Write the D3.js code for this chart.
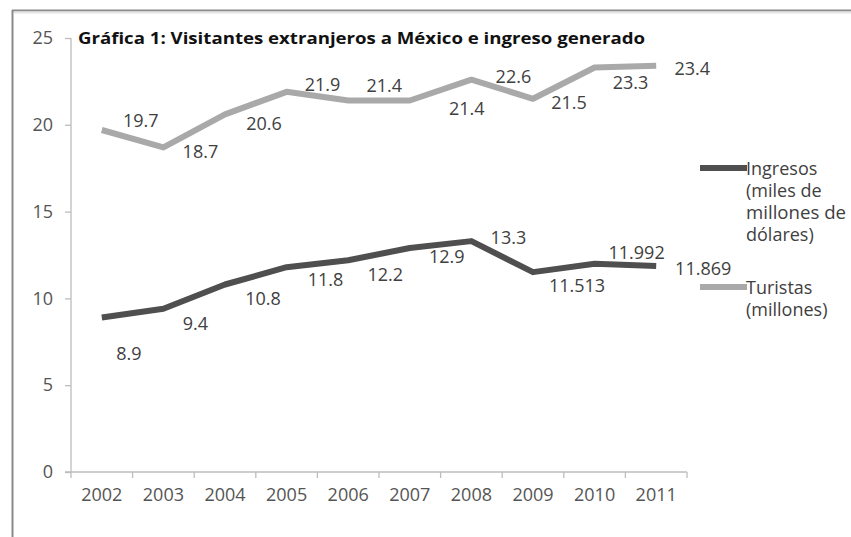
<!DOCTYPE html>
<html>
<head>
<meta charset="utf-8">
<script src="https://cdn.jsdelivr.net/npm/d3@7"></script>
<style>
  html, body { margin: 0; padding: 0; background: #fff; }
  svg { display: block; }
  text { font-family: "Open Sans", "Noto Sans", sans-serif; }
</style>
</head>
<body>
<svg id="chart" width="851" height="537"></svg>
<script>
// ---- Data ----
const years = ["2002","2003","2004","2005","2006","2007","2008","2009","2010","2011"];
const ingresos = [8.9, 9.4, 10.8, 11.8, 12.2, 12.9, 13.3, 11.513, 11.992, 11.869];
const ingresosLabels = ["8.9","9.4","10.8","11.8","12.2","12.9","13.3","11.513","11.992","11.869"];
const turistas = [19.7, 18.7, 20.6, 21.9, 21.4, 21.4, 22.6, 21.5, 23.3, 23.4];
const turistasLabels = ["19.7","18.7","20.6","21.9","21.4","21.4","22.6","21.5","23.3","23.4"];
const yTicks = [0, 5, 10, 15, 20, 25];
const title = "Gráfica 1: Visitantes extranjeros a México e ingreso generado";
const legendIngresos = ["Ingresos", "(miles de", "millones de", "dólares)"];
const legendTuristas = ["Turistas", "(millones)"];

// ---- Layout (label offsets relative to point, in px) ----
const turOff = [[39,-10],[37,4],[39,9],[36,-8],[36,-15],[57,8],[42,-4],[36,3],[36,14],[36,2]];
const ingOff = [[27,36],[32,14],[38,13],[39,12],[37,14],[37,8],[37,-4],[44,13],[42,-12],[47,2]];

const svg = d3.select("#chart");
const W = 851, H = 537;
const x0 = 71, x1 = 687, yTop = 38, yBot = 472;
const FS = "18px";
const textColor = "#404040";

// frame
svg.append("line").attr("x1", 12.5).attr("x2", 12.5).attr("y1", 10).attr("y2", H)
  .attr("stroke", "#8a8a8a").attr("stroke-width", 2);
svg.append("line").attr("x1", 12).attr("x2", W).attr("y1", 10.5).attr("y2", 10.5)
  .attr("stroke", "#8a8a8a").attr("stroke-width", 2);
svg.append("line").attr("x1", 14).attr("x2", W).attr("y1", 12.5).attr("y2", 12.5)
  .attr("stroke", "#e4e4e4").attr("stroke-width", 2);

const x = d3.scaleBand().domain(years).range([x0, x1]).padding(0);
const y = d3.scaleLinear().domain([0, 25]).range([yBot, yTop]);
const cx = d => x(d) + x.bandwidth() / 2;

// y axis
const yAxis = svg.append("g").attr("transform", `translate(${x0},0)`)
  .call(d3.axisLeft(y).tickValues(yTicks).tickSize(6).tickPadding(12).tickFormat(d3.format("d")));
yAxis.select(".domain").attr("stroke", "#bdbdbd").attr("stroke-width", 1.3).attr("d", `M0,${yTop}V${yBot}`);
yAxis.selectAll(".tick line").attr("stroke", "#bdbdbd").attr("stroke-width", 1.3);
yAxis.selectAll(".tick text").attr("fill", "#555").style("font-size", FS)
  .style("font-family", "'Open Sans', sans-serif");

// x axis
const xAxis = svg.append("g").attr("transform", `translate(0,${yBot})`)
  .call(d3.axisBottom(x).tickSize(0).tickPadding(16));
xAxis.select(".domain").attr("stroke", "#bdbdbd").attr("stroke-width", 1.3).attr("d", `M${x0 - 6},0H${x1}`);
xAxis.selectAll(".tick text").attr("fill", "#555").style("font-size", FS)
  .style("font-family", "'Open Sans', sans-serif");
// category boundary ticks
svg.append("g").selectAll("line").data(years.concat(["end"])).join("line")
  .attr("x1", (d, i) => x0 + i * x.bandwidth()).attr("x2", (d, i) => x0 + i * x.bandwidth())
  .attr("y1", yBot).attr("y2", yBot + 6)
  .attr("stroke", "#bdbdbd").attr("stroke-width", 1.3);

// lines
const line = d3.line().x((d, i) => cx(years[i])).y(d => y(d));
svg.append("path").datum(turistas).attr("d", line)
  .attr("fill", "none").attr("stroke", "#a9a9a9").attr("stroke-width", 6)
  .attr("stroke-linejoin", "round");
svg.append("path").datum(ingresos).attr("d", line)
  .attr("fill", "none").attr("stroke", "#4f4f4f").attr("stroke-width", 6)
  .attr("stroke-linejoin", "round");

// data labels
function labels(vals, txt, off) {
  svg.append("g").selectAll("text").data(vals).join("text")
    .attr("x", (d, i) => cx(years[i]) + off[i][0])
    .attr("y", (d, i) => y(d) + off[i][1])
    .attr("text-anchor", "middle").attr("dominant-baseline", "central")
    .attr("fill", textColor).style("font-size", FS)
    .text((d, i) => txt[i]);
}
labels(turistas, turistasLabels, turOff);
labels(ingresos, ingresosLabels, ingOff);

// title
svg.append("text").attr("x", 78).attr("y", 38).attr("dominant-baseline", "central")
  .attr("fill", "#111").style("font-size", "16px").style("font-weight", "bold")
  .attr("textLength", 567).attr("lengthAdjust", "spacingAndGlyphs")
  .text(title);

// legend
function legend(ly, lines, color) {
  svg.append("line").attr("x1", 700).attr("x2", 747).attr("y1", ly).attr("y2", ly)
    .attr("stroke", color).attr("stroke-width", 6);
  svg.append("g").selectAll("text").data(lines).join("text")
    .attr("x", 746).attr("y", (d, i) => ly + i * 22).attr("dominant-baseline", "central")
    .attr("fill", textColor).style("font-size", FS)
    .attr("textLength", d => d === "millones de" ? 100 : null)
    .attr("lengthAdjust", "spacingAndGlyphs")
    .text(d => d);
}
legend(168, legendIngresos, "#4f4f4f");
legend(287, legendTuristas, "#a9a9a9");
</script>
</body>
</html>
